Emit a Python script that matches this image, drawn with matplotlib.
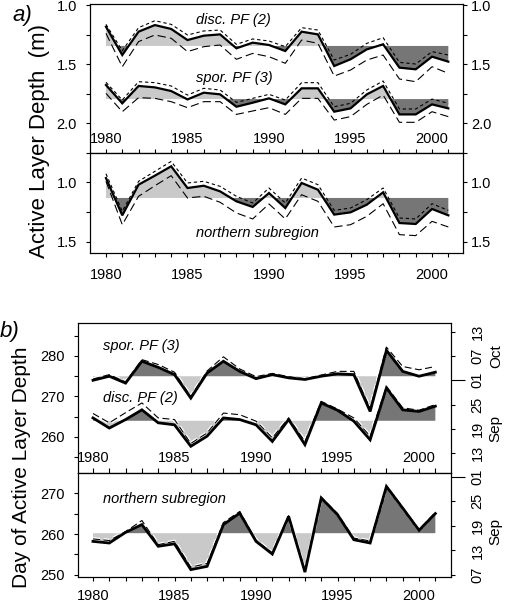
import matplotlib
matplotlib.use('Agg')
import matplotlib.pyplot as plt
import matplotlib.patheffects as pe
from matplotlib.transforms import blended_transform_factory
import numpy as np

plt.rcParams['font.family'] = ['Liberation Sans', 'DejaVu Sans']
plt.rcParams['lines.scale_dashes'] = False

years = np.arange(1980, 2002)

# ---------------- panel a: active layer depth (m) ----------------
a_disc = [1.184, 1.424, 1.226, 1.170, 1.203, 1.297, 1.260, 1.249, 1.367, 1.319, 1.339,
          1.390, 1.226, 1.249, 1.517, 1.460, 1.376, 1.333, 1.531, 1.545, 1.438, 1.480]
a_disc_hi = [1.164, 1.387, 1.192, 1.133, 1.164, 1.254, 1.220, 1.212, 1.333, 1.288, 1.305,
             1.353, 1.192, 1.212, 1.466, 1.418, 1.325, 1.277, 1.486, 1.500, 1.395, 1.424]
a_disc_lo = [1.240, 1.523, 1.310, 1.254, 1.282, 1.395, 1.353, 1.339, 1.460, 1.410, 1.438,
             1.494, 1.297, 1.325, 1.602, 1.551, 1.466, 1.424, 1.627, 1.650, 1.523, 1.579]
a_disc_mean = 1.347

a_spor = [1.678, 1.833, 1.686, 1.698, 1.729, 1.800, 1.743, 1.757, 1.862, 1.828, 1.791,
          1.842, 1.706, 1.706, 1.904, 1.876, 1.757, 1.686, 1.927, 1.927, 1.842, 1.876]
a_spor_hi = [1.655, 1.805, 1.650, 1.658, 1.686, 1.763, 1.706, 1.720, 1.825, 1.791, 1.757,
             1.805, 1.658, 1.658, 1.862, 1.833, 1.720, 1.644, 1.881, 1.881, 1.797, 1.833]
a_spor_lo = [1.749, 1.904, 1.785, 1.791, 1.819, 1.870, 1.819, 1.819, 1.927, 1.898, 1.870,
             1.927, 1.791, 1.791, 1.975, 1.946, 1.842, 1.763, 1.994, 1.994, 1.904, 1.946]
a_spor_mean = 1.797

a_north = [0.967, 1.278, 1.022, 0.947, 0.869, 1.050, 1.031, 1.078, 1.161, 1.208, 1.092,
           1.217, 1.008, 1.064, 1.272, 1.253, 1.189, 1.086, 1.342, 1.350, 1.225, 1.278]
a_north_hi = [0.931, 1.244, 0.994, 0.911, 0.828, 1.008, 0.994, 1.036, 1.119, 1.175, 1.050,
              1.175, 0.967, 1.022, 1.236, 1.217, 1.147, 1.050, 1.300, 1.308, 1.181, 1.236]
a_north_lo = [0.994, 1.356, 1.119, 1.031, 0.947, 1.133, 1.119, 1.169, 1.258, 1.308, 1.183,
              1.308, 1.106, 1.161, 1.375, 1.356, 1.286, 1.181, 1.439, 1.447, 1.328, 1.375]
a_north_mean = 1.133

# ---------------- panel b: day of active layer depth ----------------
b_spor = [274.0, 275.0, 273.3, 278.7, 277.2, 275.4, 269.6, 275.8, 278.7, 276.2, 274.4,
          275.4, 274.6, 274.2, 275.0, 275.6, 275.4, 266.3, 281.4, 276.2, 275.0, 276.0]
b_spor_d = [274.3, 275.4, 273.6, 279.1, 277.9, 276.0, 270.0, 276.3, 279.8, 276.8, 274.9,
            275.7, 274.9, 274.4, 275.3, 276.2, 276.2, 267.0, 282.2, 277.4, 276.6, 277.4]
b_spor_mean = 275.0

b_disc = [264.7, 262.2, 264.3, 266.7, 263.5, 263.0, 257.7, 260.2, 264.7, 264.3, 263.0,
          258.9, 264.3, 258.1, 268.4, 266.6, 263.9, 259.3, 272.1, 266.7, 266.3, 267.6]
b_disc_d = [265.8, 263.5, 266.0, 268.4, 264.7, 264.3, 258.4, 261.0, 265.9, 265.5, 263.9,
            259.8, 264.7, 258.9, 268.8, 266.9, 264.7, 260.2, 272.5, 267.2, 266.6, 268.0]
b_disc_mean = 264.0

b_north = [258.2, 257.8, 260.4, 262.3, 257.0, 257.6, 251.3, 252.1, 262.3, 265.1, 258.2,
           255.1, 264.3, 250.7, 268.8, 264.7, 258.6, 257.8, 271.6, 266.3, 260.9, 265.0]
b_north_d = [258.8, 258.4, 260.6, 263.3, 257.4, 258.2, 251.9, 252.8, 262.8, 265.5, 258.5,
             255.4, 264.5, 250.9, 269.0, 265.0, 259.0, 258.3, 271.8, 266.5, 261.1, 265.3]
b_north_mean = 260.2

a_yticks = [1.0, 1.25, 1.5, 1.75, 2.0, 2.25]
a_ylabels = ['1.0', '', '1.5', '', '2.0', '']
a2_yticks = [1.0, 1.25, 1.5]
a2_ylabels = ['1.0', '', '1.5']
b1_yticks = [260, 270, 280]
b2_yticks = [250, 260, 270]
x_major = [1980, 1985, 1990, 1995, 2000]

b1_day_ticks = [256, 262, 268, 280, 286]
b1_day_labels = ['13', '19', '25', '07', '13']
b2_day_ticks = [250, 256, 262, 268]
b2_day_labels = ['07', '13', '19', '25']
oct1 = 274

LIGHT = '#c9c9c9'
DARK = '#767676'
FS = 10.5

fig = plt.figure(figsize=(5.10, 6.04), dpi=100)

W, H = 510.0, 604.0
def add_ax(l, t, r, b):
    return fig.add_axes([l / W, 1 - b / H, (r - l) / W, (b - t) / H])

ax_a1 = add_ax(90, 4, 463, 153)
ax_a2 = add_ax(90, 153, 463, 253)
ax_b1 = add_ax(78, 323, 451, 473)
ax_b2 = add_ax(78, 473, 451, 577)

def shade(ax, y, m):
    y = np.asarray(y)
    ax.fill_between(years, m, y, where=y >= m, interpolate=True, color=DARK, lw=0)
    ax.fill_between(years, m, y, where=y <= m, interpolate=True, color=LIGHT, lw=0)

def draw_a(ax, y, hi, lo, m):
    shade(ax, y, m)
    ax.plot(years, hi, color='k', lw=0.8, dashes=(2.4, 2.0))
    ax.plot(years, lo, color='k', lw=0.8, dashes=(6, 3))
    ax.plot(years, y, color='k', lw=1.6, solid_joinstyle='miter')

def draw_b(ax, y, d, m):
    shade(ax, y, m)
    ax.plot(years, d, color='k', lw=0.8, dashes=(5, 2.5),
            path_effects=[pe.withStroke(linewidth=2.6, foreground='white')])
    ax.plot(years, y, color='k', lw=2.0, solid_joinstyle='miter')

draw_a(ax_a1, a_disc, a_disc_hi, a_disc_lo, a_disc_mean)
draw_a(ax_a1, a_spor, a_spor_hi, a_spor_lo, a_spor_mean)
draw_a(ax_a2, a_north, a_north_hi, a_north_lo, a_north_mean)
draw_b(ax_b1, b_spor, b_spor_d, b_spor_mean)
draw_b(ax_b1, b_disc, b_disc_d, b_disc_mean)
draw_b(ax_b2, b_north, b_north_d, b_north_mean)

for ax in (ax_a1, ax_a2, ax_b1, ax_b2):
    for s in ax.spines.values():
        s.set_linewidth(0.8)

# ---- panel a axes ----
ax_a1.set_xlim(1979.02, 2001.9)
ax_a2.set_xlim(1979.02, 2001.9)
ax_a1.set_ylim(2.254, 0.9915)
ax_a2.set_ylim(1.592, 0.758)

for ax in (ax_a1, ax_a2):
    ax.set_xticks(x_major)
    ax.set_xticks(years, minor=True)
ax_a1.tick_params(axis='x', which='both', direction='in', length=3, width=0.8,
                  labelsize=FS, pad=-15)
ax_a2.tick_params(axis='x', which='both', direction='out', length=3, width=0.8,
                  labelsize=FS, pad=8)

for ax, tks, lbs in ((ax_a1, a_yticks, a_ylabels), (ax_a2, a2_yticks, a2_ylabels)):
    ax.set_yticks(tks, labels=lbs)
    ax.tick_params(axis='y', direction='out', length=3, width=0.8, labelsize=FS, pad=6.5)
    tw = ax.twinx()
    tw.set_ylim(ax.get_ylim())
    tw.set_yticks(tks, labels=lbs)
    tw.tick_params(axis='y', direction='out', length=3, width=0.8, labelsize=FS, pad=3)
    for s in tw.spines.values():
        s.set_linewidth(0.8)

ax_a1.text(0.284, 0.893, 'disc. PF (2)', transform=ax_a1.transAxes, style='italic',
           fontsize=FS, va='center', ha='left')
ax_a1.text(0.284, 0.503, 'spor. PF (3)', transform=ax_a1.transAxes, style='italic',
           fontsize=FS, va='center', ha='left')
ax_a2.text(0.284, 0.20, 'northern subregion', transform=ax_a2.transAxes, style='italic',
           fontsize=FS, va='center', ha='left')

# ---- panel b axes ----
for ax in (ax_b1, ax_b2):
    ax.set_xlim(1979.08, 2001.96)
    ax.set_xticks(x_major)
    ax.set_xticks(years, minor=True)
ax_b1.set_ylim(251.1, 288.15)
ax_b2.set_ylim(249.5, 274.9)
ax_b1.tick_params(axis='x', which='both', direction='in', length=3.5, width=0.8,
                  labelsize=FS, pad=-15.5)
ax_b2.tick_params(axis='x', which='both', direction='out', length=3, width=0.8,
                  labelsize=FS, pad=5.5)

ax_b1.set_yticks(b1_yticks)
ax_b1.set_yticks([255, 265, 275, 285], minor=True)
ax_b2.set_yticks(b2_yticks)
ax_b2.set_yticks([255, 265], minor=True)
for ax in (ax_b1, ax_b2):
    ax.tick_params(axis='y', which='both', direction='out', length=3, width=0.8,
                   labelsize=FS, pad=6.5)

for ax, tks, lbs, months in ((ax_b1, b1_day_ticks, b1_day_labels, [('Oct', 280), ('Sep', 262)]),
                              (ax_b2, b2_day_ticks, b2_day_labels, [('Sep', 260.5)])):
    tw = ax.twinx()
    tw.set_ylim(ax.get_ylim())
    tw.set_yticks(tks, labels=lbs)
    tw.set_yticks([oct1], labels=['01'], minor=True)
    tw.tick_params(axis='y', which='major', direction='out', length=3, width=0.8,
                   labelsize=FS, pad=11, labelrotation=90)
    tw.tick_params(axis='y', which='minor', direction='out', length=10, width=0.8,
                   labelsize=FS, pad=4, labelrotation=90)
    for lab in tw.get_yticklabels(which='both'):
        lab.set_va('center')
    for s in tw.spines.values():
        s.set_linewidth(0.8)
    tr = blended_transform_factory(ax.transAxes, ax.transData)
    for name, yv in months:
        ax.text(1.12, yv, name, transform=tr, rotation=90, fontsize=FS + 0.5,
                ha='center', va='center')

ax_b1.text(0.067, 0.847, 'spor. PF (3)', transform=ax_b1.transAxes, style='italic',
           fontsize=FS, va='center', ha='left')
ax_b1.text(0.067, 0.50, 'disc. PF (2)', transform=ax_b1.transAxes, style='italic',
           fontsize=FS, va='center', ha='left')
ax_b2.text(0.067, 0.75, 'northern subregion', transform=ax_b2.transAxes, style='italic',
           fontsize=FS, va='center', ha='left')

# ---- labels ----
fig.text(40 / W, 1 - 141 / H, 'Active Layer Depth  (m)', rotation=90, fontsize=16,
         ha='center', va='center')
fig.text(22 / W, 1 - 467 / H, 'Day of Active Layer Depth', rotation=90, fontsize=15,
         ha='center', va='center')
fig.text(13 / W, 1 - 5 / H, 'a)', style='italic', fontsize=16, ha='left', va='top')
fig.text(0 / W, 1 - 321 / H, 'b)', style='italic', fontsize=16, ha='left', va='top')

fig.savefig('out.png', dpi=100)
